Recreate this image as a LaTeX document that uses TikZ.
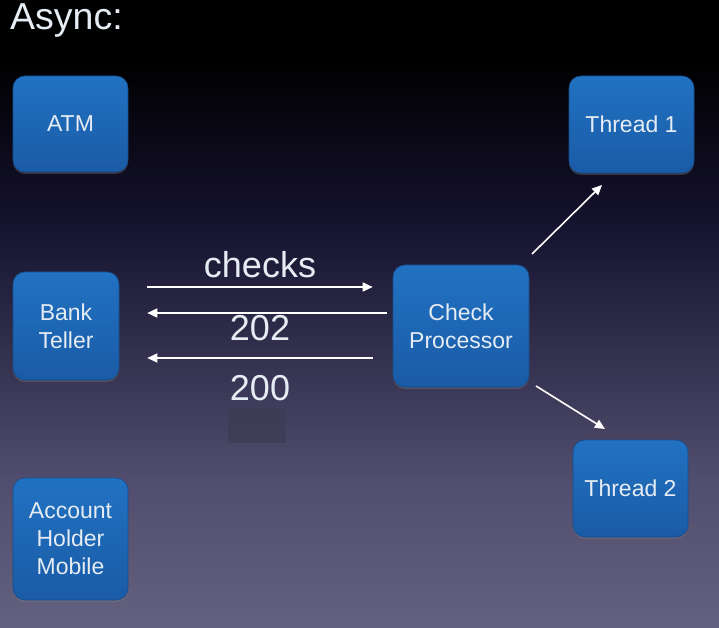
\documentclass[tikz,border=0pt]{standalone}
\usepackage{fontspec}
\setmainfont{Liberation Sans}
\usetikzlibrary{arrows.meta,shadows}

\definecolor{bgA}{HTML}{000000}
\definecolor{bgB}{HTML}{15122E}
\definecolor{bgC}{HTML}{504D6E}
\definecolor{bgD}{HTML}{64607F}
\definecolor{patch}{HTML}{3C3A52}
\definecolor{boxtop}{HTML}{2172C2}
\definecolor{boxbot}{HTML}{1A5BA6}
\definecolor{boxedge}{HTML}{174C8C}
\definecolor{txt}{HTML}{E6ECF4}

\tikzset{
  unit/.style={
    rounded corners=12pt, draw=boxedge, line width=0.6pt,
    top color=boxtop, bottom color=boxbot,
    drop shadow={opacity=0.35, shadow xshift=0pt, shadow yshift=-2pt},
    text=txt, align=center, inner sep=0pt,
    font=\fontsize{23}{28}\selectfont
  },
  flow/.style={draw=white, line width=1.6pt,
    -{Triangle[length=10pt,width=9pt]}},
  msg/.style={text=txt, anchor=base, inner sep=0pt,
    font=\fontsize{36}{42}\selectfont}
}

\begin{document}
\begin{tikzpicture}[x=1pt,y=1pt]
  \useasboundingbox (0,0) rectangle (719,627);

  % backdrop: night-sky gradient, darkest at the top
  \fill[bgA] (0,567) rectangle (719,627);
  \shade[top color=bgA, bottom color=bgB] (0,407) rectangle (719,567.5);
  \shade[top color=bgB, bottom color=bgC] (0,147) rectangle (719,407.5);
  \shade[top color=bgC, bottom color=bgD] (0,0) rectangle (719,147.5);

  % faint patch under the status codes
  \fill[patch, fill opacity=0.65] (228,184) rectangle (286,219);

  % title
  \node[anchor=base west, text=txt, inner sep=0pt,
        font=\fontsize{37.5}{44}\selectfont] (title) at (10,597) {Async:};

  % clients
  \node[unit, minimum width=115pt, minimum height=96pt]  (atm)    at (70.5,503) {ATM};
  \node[unit, minimum width=106pt, minimum height=108pt] (teller) at (66,301)   {Bank\\Teller};
  \node[unit, minimum width=115pt, minimum height=122pt] (mobile) at (70.5,88)  {Account\\Holder\\Mobile};

  % processor and its workers
  \node[unit, minimum width=136pt, minimum height=122pt] (proc) at (461,301)   {Check\\Processor};
  \node[unit, minimum width=125pt, minimum height=97pt]  (t1)   at (631.5,502.5) {Thread 1};
  \node[unit, minimum width=115pt, minimum height=97pt]  (t2)   at (630.5,138.5) {Thread 2};

  % request / response arrows between teller and processor
  \coordinate (chkS) at ([xshift=28pt, yshift=39pt]teller.east);
  \coordinate (chkE) at ([xshift=-20pt, yshift=39pt]proc.west);
  \draw[flow] (chkS) -- (chkE);
  \coordinate (r2S) at ([xshift=-6pt, yshift=13pt]proc.west);
  \coordinate (r2E) at ([xshift=28pt, yshift=13pt]teller.east);
  \draw[flow] (r2S) -- (r2E);
  \coordinate (r0S) at ([xshift=-20pt, yshift=-32pt]proc.west);
  \coordinate (r0E) at ([xshift=28pt, yshift=-32pt]teller.east);
  \draw[flow] (r0S) -- (r0E);

  \node[msg] (lchecks) at (260,349) {checks};
  \node[msg] (l202)    at (260,287) {202};
  \node[msg] (l200)    at (260,227) {200};

  % dispatch to worker threads
  \coordinate (d1S) at (532,373);
  \coordinate (d1E) at (602,442);
  \draw[flow] (d1S) -- (d1E);
  \coordinate (d2S) at (536,241);
  \coordinate (d2E) at (605,198);
  \draw[flow] (d2S) -- (d2E);
\end{tikzpicture}
\end{document}
